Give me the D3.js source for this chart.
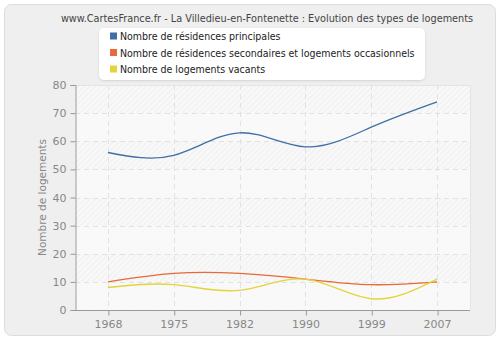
<!DOCTYPE html>
<html>
<head>
<meta charset="utf-8">
<script src="https://cdn.jsdelivr.net/npm/d3@7"></script>
<style>
  html, body { margin: 0; padding: 0; background: #ffffff; }
  svg { display: block; font-family: "DejaVu Sans", Verdana, sans-serif; }
</style>
</head>
<body>
<svg id="chart" width="500" height="340"></svg>
<script>
// Census years and housing counts per category
const years = ["1968", "1975", "1982", "1990", "1999", "2007"];
const principales = [56, 55, 63, 58, 65, 74];
const secondaires = [10, 13, 13, 11, 9, 10];
const vacants = [8, 9, 7, 11, 4, 11];
const yTicks = [0, 10, 20, 30, 40, 50, 60, 70, 80];

const seriesNames = [
  "Nombre de résidences principales",
  "Nombre de résidences secondaires et logements occasionnels",
  "Nombre de logements vacants"
];
const seriesColors = ["#3f6fa6", "#e8693a", "#e2d43a"];
const seriesValues = [principales, secondaires, vacants];

const titleText = "www.CartesFrance.fr - La Villedieu-en-Fontenette : Evolution des types de logements";
const yLabel = "Nombre de logements";

const svg = d3.select("#chart");
const W = 500, H = 340;
const plot = { left: 75, right: 470, top: 85, bottom: 310 };

const defs = svg.append("defs");
const hatch = defs.append("pattern")
  .attr("id", "hatch")
  .attr("patternUnits", "userSpaceOnUse")
  .attr("width", 4).attr("height", 4)
  .attr("patternTransform", "rotate(45)");
hatch.append("rect").attr("width", 4).attr("height", 4).attr("fill", "#f8f8f8");
hatch.append("line").attr("x1", 0).attr("y1", 0).attr("x2", 0).attr("y2", 4)
  .attr("stroke", "#ececec").attr("stroke-width", 1.2);

const shadow = defs.append("filter").attr("id", "shadow")
  .attr("x", "-10%").attr("y", "-10%").attr("width", "120%").attr("height", "130%");
shadow.append("feDropShadow").attr("dx", 0).attr("dy", 1).attr("stdDeviation", 1.2)
  .attr("flood-color", "#000").attr("flood-opacity", 0.12);

// Outer panel
svg.append("rect").attr("x", 0).attr("y", 0).attr("width", W).attr("height", H).attr("fill", "#ffffff");
svg.append("rect")
  .attr("x", 4.5).attr("y", 4.5).attr("width", W - 9).attr("height", H - 9)
  .attr("rx", 7).attr("ry", 7)
  .attr("fill", "#efefef").attr("stroke", "#dcdcdc").attr("stroke-width", 1);

// Scales
const x = d3.scalePoint().domain(years).range([plot.left, plot.right]).padding(0.5);
const y = d3.scaleLinear().domain([0, 80]).range([plot.bottom, plot.top]);

// Plot background with alternating bands
svg.append("rect")
  .attr("x", plot.left).attr("y", plot.top)
  .attr("width", plot.right - plot.left).attr("height", plot.bottom - plot.top)
  .attr("fill", "url(#hatch)");
svg.append("g").selectAll("rect")
  .data(d3.range(0, 80, 20))
  .join("rect")
  .attr("x", plot.left)
  .attr("y", d => y(d + 10))
  .attr("width", plot.right - plot.left)
  .attr("height", d => y(d) - y(d + 10))
  .attr("fill", "#fafafa").attr("fill-opacity", 0.75);

// Grid lines
const grid = svg.append("g").attr("stroke", "#e2e2e2").attr("stroke-dasharray", "5,4").attr("stroke-width", 1);
grid.selectAll("line.h").data(yTicks.slice(1))
  .join("line").attr("class", "h")
  .attr("x1", plot.left).attr("x2", plot.right)
  .attr("y1", d => Math.round(y(d)) + 0.5).attr("y2", d => Math.round(y(d)) + 0.5);
grid.selectAll("line.v").data(years)
  .join("line").attr("class", "v")
  .attr("x1", d => Math.round(x(d)) + 0.5).attr("x2", d => Math.round(x(d)) + 0.5)
  .attr("y1", plot.top).attr("y2", plot.bottom);

// Plot frame (right and top light edge)
svg.append("path")
  .attr("d", `M${plot.left},${plot.top + 0.5}H${plot.right + 0.5}V${plot.bottom}`)
  .attr("fill", "none").attr("stroke", "#e4e4e4").attr("stroke-width", 1);

// Axes
const yAxis = svg.append("g")
  .attr("transform", `translate(${plot.left + 0.5},0)`)
  .call(d3.axisLeft(y).tickValues(yTicks).tickSize(5).tickPadding(4));
const xAxis = svg.append("g")
  .attr("transform", `translate(0,${plot.bottom + 0.5})`)
  .call(d3.axisBottom(x).tickSize(5).tickPadding(5));
[yAxis, xAxis].forEach(g => {
  g.select(".domain").attr("stroke", "#999");
  g.selectAll(".tick line").attr("stroke", "#999");
  g.selectAll(".tick text").attr("fill", "#888").attr("font-size", 11)
    .attr("font-family", "DejaVu Sans, Verdana, sans-serif");
});
xAxis.select(".domain").attr("d", `M${plot.left},0H${plot.right}`);
xAxis.selectAll(".tick line").attr("transform", "translate(0.5,0)");

// Y axis title
svg.append("text")
  .attr("transform", `translate(46,${(plot.top + plot.bottom) / 2}) rotate(-90)`)
  .attr("text-anchor", "middle")
  .attr("fill", "#888").attr("font-size", 10.5)
  .text(yLabel);

// Series lines
const line = d3.line()
  .x((d, i) => x(years[i]))
  .y(d => y(d))
  .curve(d3.curveNatural);
svg.append("g").selectAll("path")
  .data(seriesValues)
  .join("path")
  .attr("d", d => line(d))
  .attr("fill", "none")
  .attr("stroke", (d, i) => seriesColors[i])
  .attr("stroke-width", 1.3);

// Title
svg.append("text")
  .attr("x", 267).attr("y", 22)
  .attr("text-anchor", "middle")
  .attr("fill", "#444").attr("font-size", 10.8)
  .attr("font-family", "DejaVu Sans Condensed, DejaVu Sans, sans-serif")
  .text(titleText);

// Legend
const legend = svg.append("g");
legend.append("rect")
  .attr("x", 99).attr("y", 28).attr("width", 326).attr("height", 52)
  .attr("rx", 5).attr("ry", 5)
  .attr("fill", "#ffffff").attr("filter", "url(#shadow)");
const items = legend.selectAll("g.item")
  .data(seriesNames)
  .join("g").attr("class", "item")
  .attr("transform", (d, i) => `translate(110,${36 + i * 16.5})`);
items.append("rect")
  .attr("x", 0).attr("y", -3.5).attr("width", 7).attr("height", 7)
  .attr("fill", (d, i) => seriesColors[i]);
items.append("text")
  .attr("x", 10).attr("y", 4)
  .attr("fill", "#222").attr("font-size", 10.5)
  .attr("font-family", "DejaVu Sans Condensed, DejaVu Sans, sans-serif")
  .text(d => d);
</script>
</body>
</html>
